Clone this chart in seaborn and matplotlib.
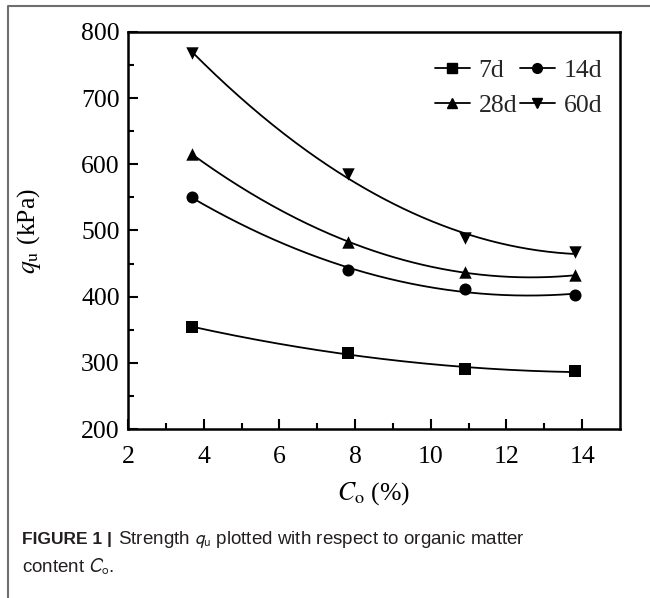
import numpy as np
import pandas as pd
import matplotlib
matplotlib.use("Agg")
import matplotlib.pyplot as plt
from matplotlib.lines import Line2D
import seaborn as sns

# ---- data ----
co = [3.7, 7.8, 10.9, 13.8]
q_7d = [354, 315, 291, 287]
q_14d = [550, 441, 411, 403]
q_28d = [615, 483, 437, 432]
q_60d = [768, 585, 489, 467]
series_names = ["7d", "14d", "28d", "60d"]
markers = ["s", "o", "^", "v"]
x_ticks = [2, 4, 6, 8, 10, 12, 14]
y_ticks = [200, 300, 400, 500, 600, 700, 800]

sns.set_theme(style="ticks")
plt.rcParams["font.family"] = ["Liberation Serif", "DejaVu Serif"]
plt.rcParams["mathtext.fontset"] = "stix"

fig = plt.figure(figsize=(6.5, 5.98), dpi=100)
ax = fig.add_axes([128 / 650, 1 - 429 / 598, (620 - 128) / 650, (429 - 32) / 598])

values = [q_7d, q_14d, q_28d, q_60d]
rows = []
for name, vals in zip(series_names, values):
    for x, y in zip(co, vals):
        rows.append({"Co": x, "qu": y, "age": name})
df = pd.DataFrame(rows)

# smooth fitted curves (2nd-order polynomial fit of each series)
curve_rows = []
xx = np.linspace(min(co), max(co), 200)
for name, vals in zip(series_names, values):
    p = np.polyfit(co, vals, 2)
    for a, b in zip(xx, np.polyval(p, xx)):
        curve_rows.append({"Co": a, "qu": b, "age": name})
cdf = pd.DataFrame(curve_rows)

sizes = {"s": 70, "o": 75, "^": 80, "v": 80}
for name, m in zip(series_names, markers):
    sub = cdf[cdf.age == name]
    sns.lineplot(data=sub, x="Co", y="qu", ax=ax, color="black", lw=1.3,
                 legend=False, sort=False)
    pts = df[df.age == name]
    sns.scatterplot(data=pts, x="Co", y="qu", ax=ax, color="black",
                    marker=m, s=sizes[m], edgecolor="black",
                    linewidth=0, legend=False, zorder=3)

ax.set_xlim(2, 15)
ax.set_ylim(200, 800)
ax.set_xticks(x_ticks)
ax.set_yticks(y_ticks)
ax.set_xticks(np.arange(3, 15, 2), minor=True)
ax.set_yticks(np.arange(250, 800, 100), minor=True)
ax.tick_params(which="major", direction="in", length=7, width=1.5,
               labelsize=18.5, color="black", labelcolor="black")
ax.tick_params(axis="x", which="major", pad=12)
ax.tick_params(axis="y", which="major", pad=6)
ax.tick_params(which="minor", direction="in", length=4, width=1.5, color="black")
for s in ax.spines.values():
    s.set_linewidth(1.8)
    s.set_color("black")

ax.set_xlabel(r"$C_\mathrm{o}$ (%)", fontsize=18.5, color="black")
ax.set_ylabel(r"$q_\mathrm{u}$ (kPa)", fontsize=18.5, color="black")
ax.xaxis.set_label_coords(0.5, -0.128)
ax.yaxis.set_label_coords(-0.172, 0.5)

handles = {n: Line2D([], [], color="black", lw=1.3, marker=m, markersize=7)
           for n, m in zip(series_names, markers)}
order = ["7d", "28d", "14d", "60d"]  # column-wise fill -> rows: 7d 14d / 28d 60d
ax.legend([handles[n] for n in order], order, ncol=2, frameon=False, fontsize=18.5,
          loc="upper right", bbox_to_anchor=(0.995, 0.972), handlelength=1.35,
          handletextpad=0.35, columnspacing=0.1, labelspacing=0.5,
          borderaxespad=0.2)

# figure frame (gray lines at top and left)
fig.add_artist(Line2D([8 / 650, 8 / 650, 1.0], [0.0, 1 - 6 / 598, 1 - 6 / 598],
                      color="#6e6e6e", lw=1.5, transform=fig.transFigure))

# caption
cap_family = ["Liberation Sans", "DejaVu Sans"]
t1 = fig.text(22 / 650, 1 - 544 / 598, "FIGURE 1 |", fontweight="bold",
              fontsize=12.5, color="#231f20", family=cap_family, va="baseline")
fig.canvas.draw()
bb = t1.get_window_extent(renderer=fig.canvas.get_renderer())
x_next = (bb.x1 + 1) / fig.bbox.width
fig.text(x_next, 1 - 544 / 598,
         r" Strength $q_\mathrm{u}$ plotted with respect to organic matter",
         fontsize=13.5, color="#231f20", family=cap_family,
         math_fontfamily="stixsans", va="baseline")
fig.text(22 / 650, 1 - 572 / 598, r"content $C_\mathrm{o}$.",
         fontsize=13.5, color="#231f20", family=cap_family,
         math_fontfamily="stixsans", va="baseline")

fig.savefig("out.png", dpi=100)
